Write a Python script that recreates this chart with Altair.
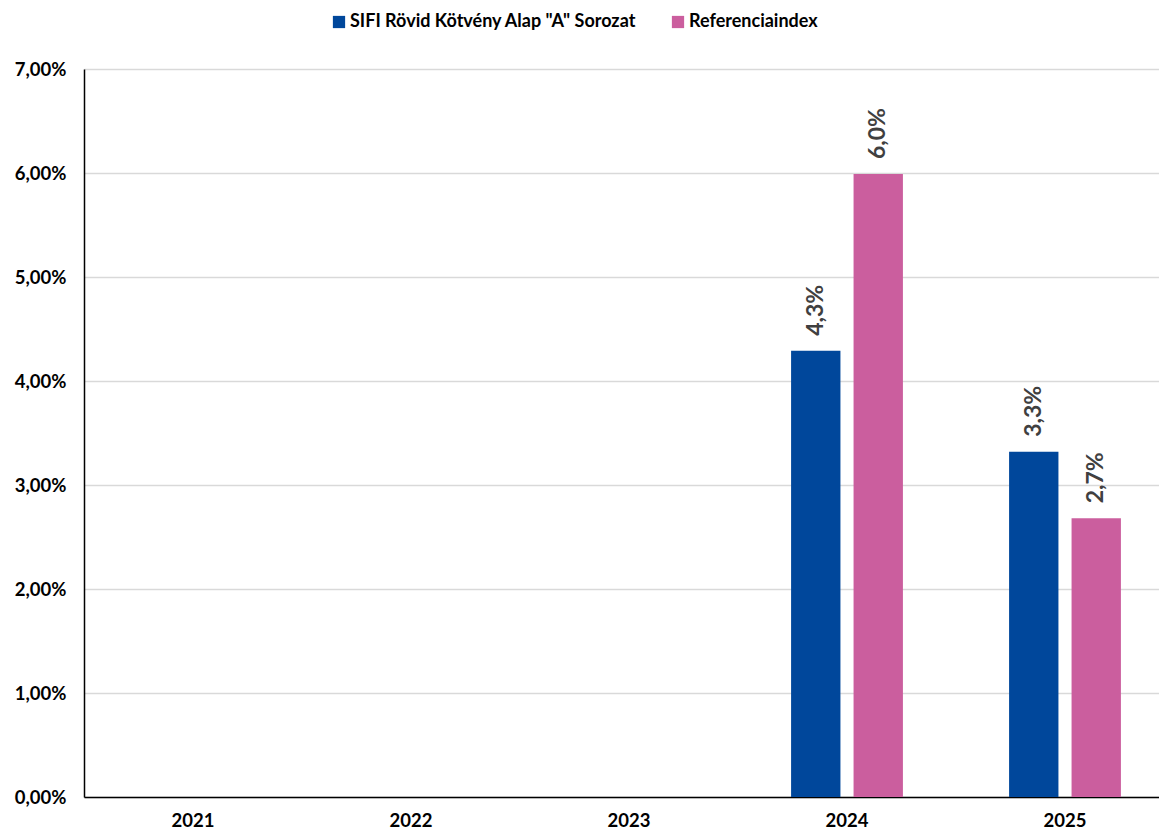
import altair as alt
import pandas as pd

years = ["2021", "2022", "2023", "2024", "2025"]
series_names = ['SIFI Rövid Kötvény Alap "A" Sorozat', "Referenciaindex"]
fund_values = [None, None, None, 4.29, 3.32]
ref_values = [None, None, None, 5.99, 2.68]
colors = ["#00479B", "#CB5E9E"]
y_ticks = [0, 1, 2, 3, 4, 5, 6, 7]

rows = []
for i, yr in enumerate(years):
    if fund_values[i] is not None:
        rows.append({"year": yr, "series": series_names[0], "value": fund_values[i]})
    if ref_values[i] is not None:
        rows.append({"year": yr, "series": series_names[1], "value": ref_values[i]})
df = pd.DataFrame(rows)

FONT = "Lato"

x_enc = alt.X("year:N", scale=alt.Scale(domain=years, paddingInner=0.487, paddingOuter=0.2435,
                                        range=[0, 1090]),
              axis=alt.Axis(title=None, labelAngle=0, labelFontSize=18.5, labelFontWeight="bold",
                            labelColor="#000000", labelPadding=14, ticks=False,
                            domainColor="#000000", domainWidth=1.5, grid=False))
y_enc = alt.Y("value:Q", scale=alt.Scale(domain=[0, 7], nice=False),
              axis=alt.Axis(title=None, values=y_ticks, labelFontSize=18.5, labelFontWeight="bold",
                            labelColor="#000000", labelPadding=18, ticks=False,
                            labelExpr="replace(format(datum.value, '.2f'), '.', ',') + '%'",
                            domainColor="#000000", domainWidth=1.5,
                            gridColor="#D9D9D9", gridWidth=1.5))
xoff = alt.XOffset("series:N", scale=alt.Scale(domain=series_names, paddingInner=0.21, paddingOuter=0))
color_enc = alt.Color("series:N", scale=alt.Scale(domain=series_names, range=colors),
                      legend=alt.Legend(title=None, orient="none", direction="horizontal",
                                        legendX=246, legendY=-56, symbolType="square",
                                        symbolSize=150, symbolStrokeWidth=0, symbolOpacity=1,
                                        labelFontSize=18, labelFontWeight="bold", labelLimit=0,
                                        labelColor="#000000", columnPadding=32, labelOffset=2))

base = alt.Chart(df)
bars = base.mark_bar(opacity=1).encode(x=x_enc, y=y_enc, xOffset=xoff, color=color_enc)
labels = base.mark_text(angle=270, align="left", baseline="middle", dx=15,
                        fontSize=23, fontWeight="bold", color="#404040").encode(
    x=alt.X("year:N"), y=alt.Y("value:Q"), xOffset=alt.XOffset("series:N"),
    text=alt.Text("label:N"),
).transform_calculate(label="replace(format(datum.value, '.1f'), '.', ',') + '%'")

chart = alt.layer(bars, labels).properties(
    width=1075, height=728,
    autosize=alt.AutoSizeParams(type="none"),
    padding={"left": 76, "top": 61, "right": 0, "bottom": 34},
).configure(font=FONT).configure_view(stroke=None)

chart.save("out.html", embed_options={"renderer": "svg", "actions": False})
